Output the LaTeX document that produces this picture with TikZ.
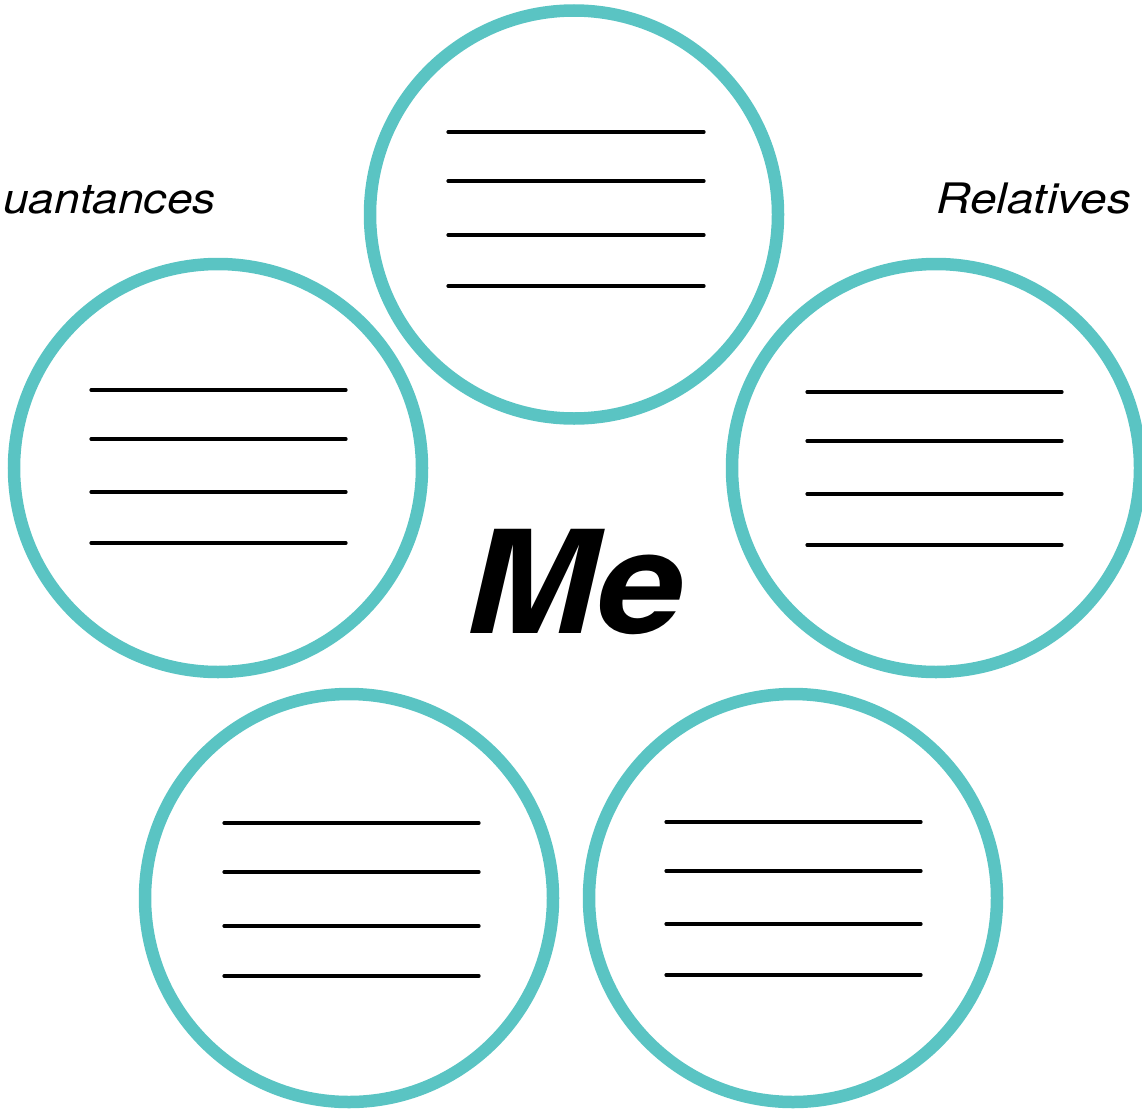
\documentclass[tikz,border=0pt]{standalone}
\usepackage{graphicx}
\usepackage{fontspec}
\newfontfamily\labelfont{TeX Gyre Heros}
\definecolor{ringteal}{HTML}{5AC4C3}
\tikzset{
  ring/.style={circle, draw=ringteal, line width=12.5pt, minimum size=408pt, inner sep=0pt},
  ln/.style={line width=3.2pt, line cap=round, black},
  lbl/.style={font=\labelfont\itshape\fontsize{42}{50}\selectfont, inner sep=0pt},
}
\begin{document}
\begin{tikzpicture}[x=1pt,y=1pt]
\useasboundingbox (0,0) rectangle (1142,-1108);
\clip (0,0) rectangle (1142,-1108);
\node[ring] (ctop) at (574,-214.5) {};
\node[ring] (cleft) at (218,-468) {};
\node[ring] (cright) at (936,-468) {};
\node[ring] (cbl) at (349,-898) {};
\node[ring] (cbr) at (793,-898) {};
\foreach \y in {132,181,235,286} \draw[ln] (448,-\y) -- (704,-\y);
\foreach \y in {390,439,492,543} \draw[ln] (91,-\y) -- (346,-\y);
\foreach \y in {392,441,494,545} \draw[ln] (807,-\y) -- (1062,-\y);
\foreach \y in {823,872,926,976} \draw[ln] (224,-\y) -- (479,-\y);
\foreach \y in {822,871,924,975} \draw[ln] (666,-\y) -- (921,-\y);
\node[inner sep=0pt, anchor=base, font=\labelfont\bfseries\itshape\fontsize{143}{150}\selectfont] (me) at (575,-633) {\scalebox{1.09}[1]{Me}};
\node[lbl, anchor=base east] (acq) at (216,-213) {\scalebox{1.1}[1]{uantances}};
\node[lbl, anchor=base west] (rel) at (936,-213) {\scalebox{1.14}[1]{Relatives}};
\end{tikzpicture}
\end{document}
